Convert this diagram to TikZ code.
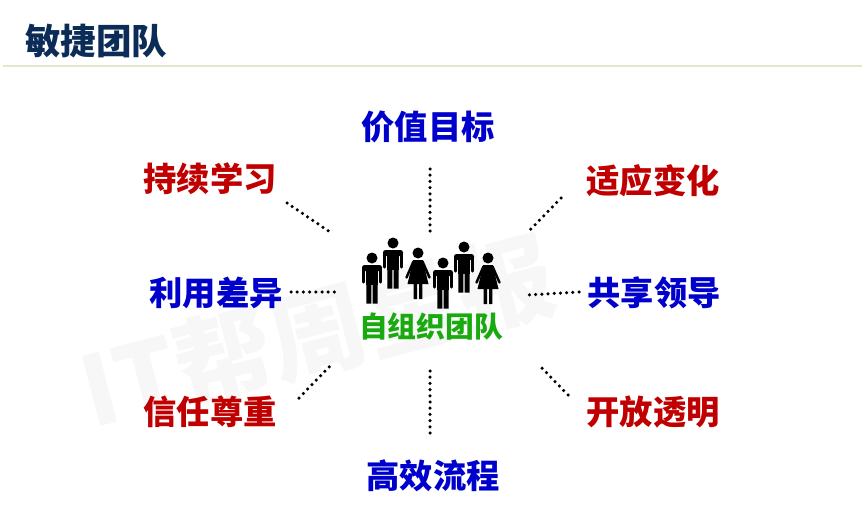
\documentclass[tikz,border=0pt]{standalone}
\usepackage{fontspec}
\setmainfont{Noto Sans CJK SC}[BoldFont={Noto Sans CJK SC Black}]
\usepackage{xcolor}
\usetikzlibrary{calc}
\definecolor{navy}{HTML}{0B2C56}
\definecolor{rule}{HTML}{E4E8C8}
\definecolor{wine}{HTML}{C00000}
\definecolor{blue}{HTML}{0000CC}
\definecolor{leaf}{HTML}{19AA0F}
\definecolor{mark}{HTML}{F7F7F7}
\tikzset{
  head/.style={text=navy, font=\fontsize{35.5}{38}\selectfont\bfseries},
  redlab/.style={text=wine, font=\fontsize{33.3}{36}\selectfont\bfseries},
  bluelab/.style={text=blue, font=\fontsize{33.3}{36}\selectfont\bfseries},
  teamlab/.style={text=leaf, font=\fontsize{28.8}{32}\selectfont\bfseries},
  marklab/.style={text=mark, font=\fontsize{97}{102}\selectfont\bfseries},
  dots/.style={draw=black, line width=3.5pt, line cap=round, dash pattern=on 0pt off 6.2pt},
  body/.style={fill=black, draw=none},
  limb/.style={draw=black, line cap=round, line join=round},
  man/.pic={
    \fill[body] (0,0) circle (5.5);
    \fill[body,rounded corners=2.5pt] (-10,7) rectangle (10,13);
    \fill[body] (-6.4,9) rectangle (6.4,27);
    \draw[limb, line width=3.2pt] (-8.4,10) -- (-8.4,24);
    \draw[limb, line width=3.2pt] (8.4,10) -- (8.4,24);
    \fill[body] (-5.6,26) rectangle (-0.7,45.5) (0.7,26) rectangle (5.6,45.5);
  },
  woman/.pic={
    \fill[body] (0,0) circle (5.5);
    \fill[body] (-4.8,7) -- (4.8,7) -- (10.5,31) -- (-10.5,31) -- cycle;
    \draw[limb, line width=2.5pt] (-4.5,8.5) -- (-11.5,24.5);
    \draw[limb, line width=2.5pt] (4.5,8.5) -- (11.5,24.5);
    \fill[body] (-4.3,30) rectangle (-1,46) (1,30) rectangle (4.3,46);
  },
}
\begin{document}
\begin{tikzpicture}[x=1pt,y=-1pt]
  \useasboundingbox (0,0) rectangle (862,511);
  % faint stamp behind everything
  \node[marklab,rotate=14.5] (stamp) at (318,332) {IT帮周星报};
  % heading
  \node[head] (title) at (96,41) {敏捷团队};
  \coordinate (ruleL) at (3,66);
  \coordinate (ruleR) at (862,66);
  \draw[rule,line width=1.3pt] (ruleL)--(ruleR);
  % labels
  \node[bluelab] (goal) at (428,127) {价值目标};
  \node[redlab] (learn) at (210,179) {持续学习};
  \node[redlab] (adapt) at (653,181) {适应变化};
  \node[bluelab] (diff) at (216,293) {利用差异};
  \node[bluelab] (lead) at (654,293) {共享领导};
  \node[redlab] (trust) at (210,412) {信任尊重};
  \node[redlab] (open) at (653,412) {开放透明};
  \node[bluelab] (flow) at (433,476) {高效流程};
  \node[teamlab] (team) at (431,327) {自组织团队};
  % people
  \foreach \X/\Y in {372/258,393/243,443/263,464/247}
    \pic at (\X,\Y) {man};
  \foreach \X/\Y in {418/253,488/258}
    \pic at (\X,\Y) {woman};
  % dotted spokes
  \coordinate (g1) at (430,169);
  \coordinate (g2) at (430,231);
  \coordinate (f1) at (430,371);
  \coordinate (f2) at (430,437);
  \coordinate (l1) at (287,203);
  \coordinate (l2) at (330,232);
  \coordinate (a1) at (561,198);
  \coordinate (a2) at (530,230);
  \coordinate (d1) at (291,292);
  \coordinate (d2) at (336,292);
  \coordinate (s1) at (579,292);
  \coordinate (s2) at (528,295);
  \coordinate (t1) at (299,398);
  \coordinate (t2) at (330,366);
  \coordinate (o1) at (568,395);
  \coordinate (o2) at (542,368);
  \foreach \A/\B in {g1/g2,f1/f2,l1/l2,a1/a2,d1/d2,s1/s2,t1/t2,o1/o2}
    \draw[dots] (\A)--(\B);
\end{tikzpicture}
\end{document}
